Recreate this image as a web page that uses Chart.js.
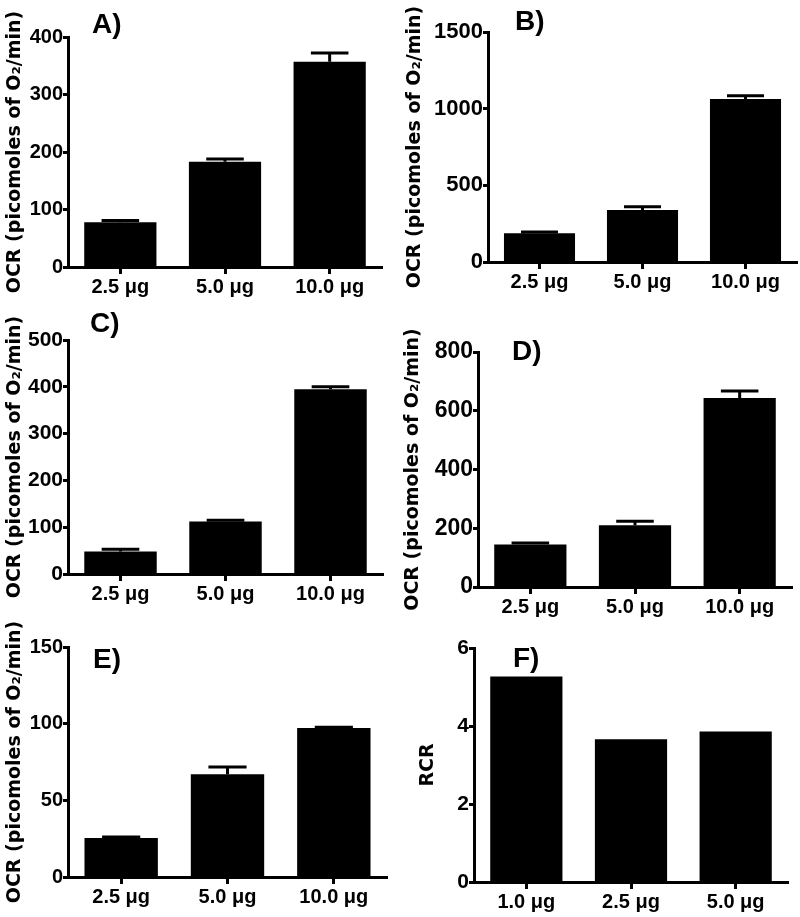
<!DOCTYPE html>
<html>
<head>
<meta charset="utf-8">
<script src="https://cdn.jsdelivr.net/npm/chart.js@4.4.1/dist/chart.umd.min.js"></script>
<style>
  html, body { margin: 0; padding: 0; background: #fff; }
  #wrap { position: relative; width: 800px; height: 917px; overflow: hidden; }
  canvas { position: absolute; }
</style>
</head>
<body>
<div id="wrap">
  <canvas id="chartA"></canvas>
  <canvas id="chartB"></canvas>
  <canvas id="chartC"></canvas>
  <canvas id="chartD"></canvas>
  <canvas id="chartE"></canvas>
  <canvas id="chartF"></canvas>
</div>
<script>
// categories
var doseLabels = ['2.5 μg', '5.0 μg', '10.0 μg'];
var rcrLabels = ['1.0 μg', '2.5 μg', '5.0 μg'];

// OCR means and SEM
var ocrA = [78, 183, 357];
var errA = [3, 5, 15];
var ocrB = [188, 339, 1063];
var errB = [7, 22, 22];
var ocrC = [48, 112, 395];
var errC = [5, 3, 5];
var ocrD = [145, 210, 643];
var errD = [5, 14, 24];
var ocrE = [25.4, 67, 97.2];
var errE = [0.7, 4.7, 0.4];
var rcrF = [5.27, 3.66, 3.86];

// y axis ranges
var yMaxA = 400, yStepA = 100;
var yMaxB = 1500, yStepB = 500;
var yMaxC = 500, yStepC = 100;
var yMaxD = 800, yStepD = 200;
var yMaxE = 150, yStepE = 50;
var yMaxF = 6, yStepF = 2;

var ocrTitle = 'OCR (picomoles of O₂/min)';
var sans = '"Liberation Sans", Arial, sans-serif';

// draws the upward error bar with a cap above each bar
var errorBars = {
    id: 'errorBars',
    afterDatasetsDraw: function(chart) {
        var ds = chart.data.datasets[0];
        if (!ds.errors) return;
        var yScale = chart.scales.y;
        var ctx = chart.ctx;
        ctx.save();
        ctx.strokeStyle = '#000';
        ctx.lineWidth = 3;
        chart.getDatasetMeta(0).data.forEach(function(bar, i) {
            var top = yScale.getPixelForValue(ds.data[i] + ds.errors[i]);
            var half = bar.width * 0.26;
            ctx.beginPath();
            ctx.moveTo(bar.x, bar.y);
            ctx.lineTo(bar.x, top);
            ctx.moveTo(bar.x - half, top);
            ctx.lineTo(bar.x + half, top);
            ctx.stroke();
        });
        ctx.restore();
    }
};

// panel letter (A), B) ...)
var panelLabel = {
    id: 'panelLabel',
    afterDraw: function(chart, args, opts) {
        var ctx = chart.ctx;
        ctx.save();
        ctx.fillStyle = '#000';
        ctx.font = 'bold 28px ' + sans;
        ctx.textBaseline = 'alphabetic';
        ctx.fillText(opts.text, opts.x, opts.y);
        ctx.restore();
    }
};

function makePanel(id, box, area, labels, values, errors, yMax, yStep, title, letter, titlePad, tickSize) {
    var el = document.getElementById(id);
    el.width = box.w;
    el.height = box.h;
    el.style.left = box.x + 'px';
    el.style.top = box.y + 'px';
    var xAxisH = 30;

    new Chart(el.getContext('2d'), {
        type: 'bar',
        data: {
            labels: labels,
            datasets: [{
                data: values,
                errors: errors,
                backgroundColor: '#000',
                borderWidth: 0,
                barPercentage: 0.69,
                categoryPercentage: 1
            }]
        },
        options: {
            responsive: false,
            animation: false,
            devicePixelRatio: 1,
            layout: {
                padding: {
                    left: 0,
                    top: area.top,
                    right: box.w - area.right,
                    bottom: box.h - area.bottom - xAxisH
                }
            },
            plugins: {
                legend: { display: false },
                tooltip: { enabled: false },
                panelLabel: letter
            },
            scales: {
                x: {
                    afterFit: function(s) { s.height = xAxisH; },
                    border: { display: true, color: '#000', width: 3 },
                    grid: {
                        display: true,
                        offset: false,
                        drawOnChartArea: false,
                        drawTicks: true,
                        tickLength: 7,
                        tickWidth: 3,
                        tickColor: '#000',
                        color: '#000'
                    },
                    ticks: {
                        color: '#000',
                        padding: 1,
                        font: { family: sans, size: 20, weight: 'bold' }
                    }
                },
                y: {
                    min: 0,
                    max: yMax,
                    afterFit: function(s) { s.width = area.left; },
                    border: { display: true, color: '#000', width: 3 },
                    grid: {
                        display: true,
                        drawOnChartArea: false,
                        drawTicks: true,
                        tickLength: 5,
                        tickWidth: 3,
                        tickColor: '#000',
                        color: '#000'
                    },
                    ticks: {
                        stepSize: yStep,
                        color: '#000',
                        padding: 0,
                        callback: function(v) { return String(v); },
                        font: { family: sans, size: tickSize, weight: 'bold' }
                    },
                    title: {
                        display: true,
                        text: title,
                        color: '#000',
                        padding: { top: titlePad, bottom: 0 },
                        font: { family: '"DejaVu Sans", sans-serif', size: 19, weight: 'bold' }
                    }
                }
            }
        },
        plugins: [errorBars, panelLabel]
    });
}

makePanel('chartA', { x: 0, y: 0, w: 400, h: 300 }, { left: 68, right: 382, top: 37, bottom: 267 },
    doseLabels, ocrA, errA, yMaxA, yStepA, ocrTitle, { text: 'A)', x: 92, y: 33 }, 4, 20);
makePanel('chartB', { x: 400, y: 0, w: 400, h: 300 }, { left: 88, right: 397, top: 32, bottom: 262 },
    doseLabels, ocrB, errB, yMaxB, yStepB, ocrTitle, { text: 'B)', x: 115, y: 30 }, 4, 22);
makePanel('chartC', { x: 0, y: 300, w: 400, h: 320 }, { left: 68, right: 383, top: 40, bottom: 274 },
    doseLabels, ocrC, errC, yMaxC, yStepC, ocrTitle, { text: 'C)', x: 90, y: 32 }, 4, 21);
makePanel('chartD', { x: 400, y: 300, w: 400, h: 330 }, { left: 78, right: 392, top: 52, bottom: 287 },
    doseLabels, ocrD, errD, yMaxD, yStepD, ocrTitle, { text: 'D)', x: 112, y: 60 }, 2, 23);
makePanel('chartE', { x: 0, y: 600, w: 400, h: 317 }, { left: 68, right: 387, top: 47, bottom: 277 },
    doseLabels, ocrE, errE, yMaxE, yStepE, ocrTitle, { text: 'E)', x: 93, y: 68 }, 4, 20);
makePanel('chartF', { x: 400, y: 600, w: 400, h: 317 }, { left: 74, right: 388, top: 48, bottom: 282 },
    rcrLabels, rcrF, null, yMaxF, yStepF, 'RCR', { text: 'F)', x: 113, y: 67 }, 17, 21);
</script>
</body>
</html>
